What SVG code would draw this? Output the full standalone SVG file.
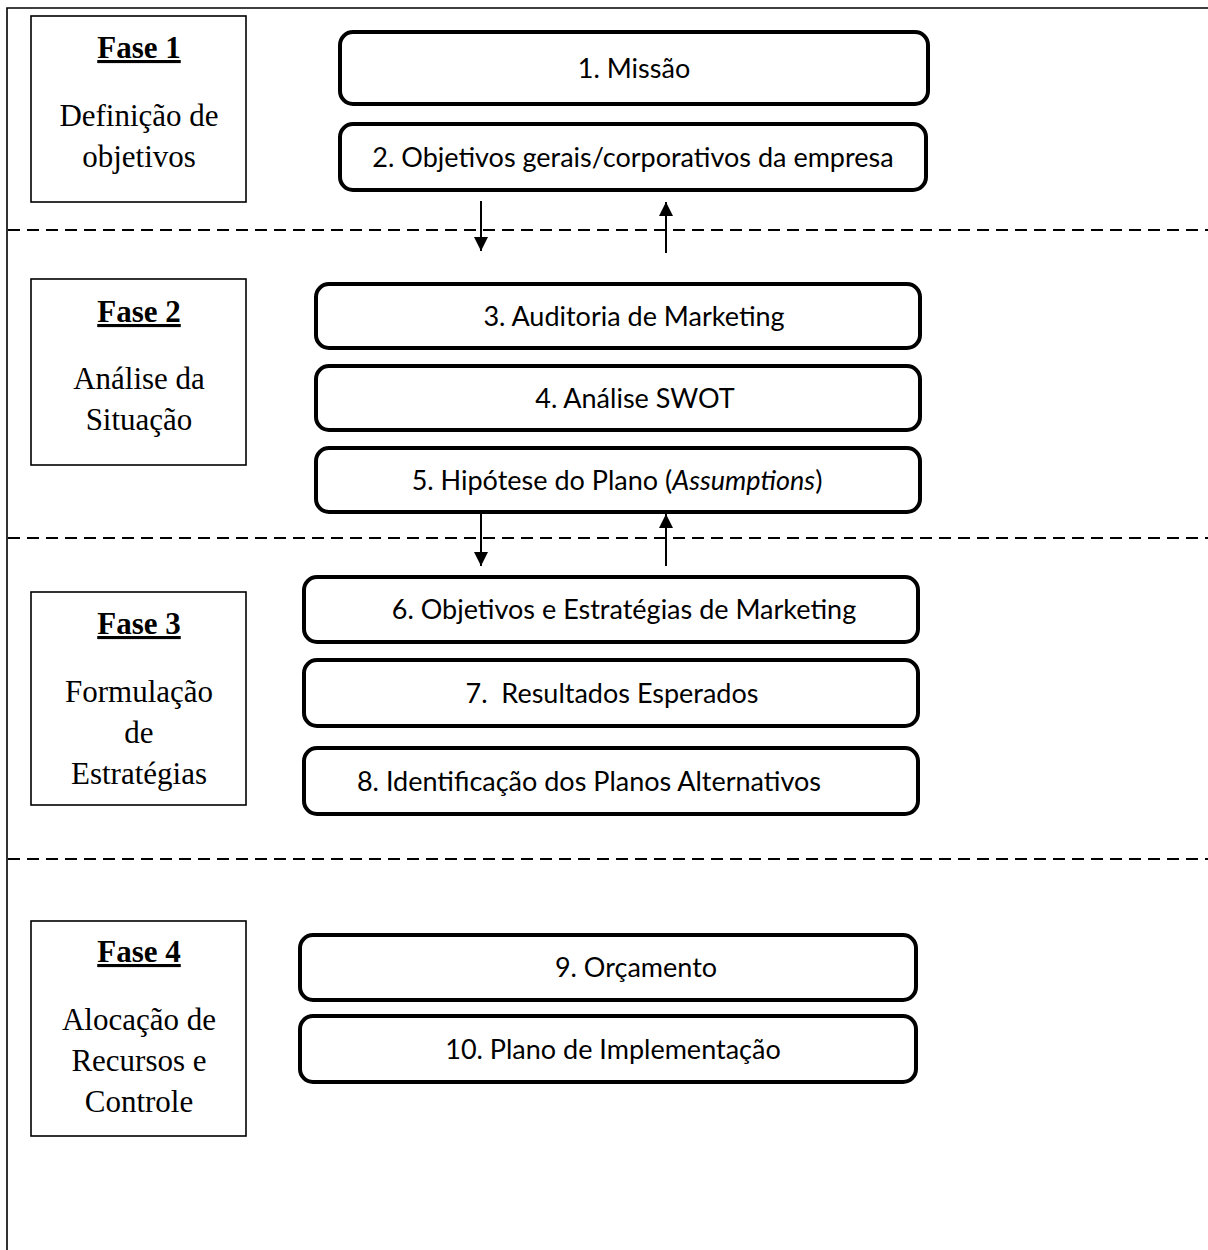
<svg xmlns="http://www.w3.org/2000/svg" width="1208" height="1250" viewBox="0 0 1208 1250">
<style>
.frame{fill:none;stroke:#000;stroke-width:1.6}
.dash{fill:none;stroke:#000;stroke-width:2;stroke-dasharray:12 7}
.phase{fill:#fff;stroke:#000;stroke-width:1.6}
.step{fill:#fff;stroke:#000;stroke-width:4}
.pt{font-family:"Liberation Serif",serif;font-size:31px;fill:#000;text-anchor:middle}
.ph{font-weight:bold;text-decoration:underline}
.st{font-family:Lato,"Open Sans",sans-serif;font-size:27px;fill:#000;text-anchor:middle}
.arr{stroke:#000;stroke-width:2;fill:none}
</style>
<defs>
<marker id="ah" markerUnits="userSpaceOnUse" markerWidth="14" markerHeight="16" refX="14" refY="7" orient="auto">
<path d="M0,0 L14,7 L0,14 Z" fill="#000"/>
</marker>
</defs>
<rect width="1208" height="1250" fill="#fff"/>
<g id="frame">
<path class="frame" d="M7,1250 L7,8 L1208,8"/>
<line class="dash" x1="8" y1="230" x2="1208" y2="230"/>
<line class="dash" x1="8" y1="538" x2="1208" y2="538"/>
<line class="dash" x1="8" y1="859" x2="1208" y2="859"/>
</g>
<g id="fase1">
<rect class="phase" x="31" y="16" width="215" height="186"/>
<text class="pt ph" x="139" y="58">Fase 1</text>
<text class="pt" x="139" y="126">Definição de</text>
<text class="pt" x="139" y="167">objetivos</text>
</g>
<g id="fase2">
<rect class="phase" x="31" y="279" width="215" height="186"/>
<text class="pt ph" x="139" y="322">Fase 2</text>
<text class="pt" x="139" y="389">Análise da</text>
<text class="pt" x="139" y="430">Situação</text>
</g>
<g id="fase3">
<rect class="phase" x="31" y="592" width="215" height="213"/>
<text class="pt ph" x="139" y="634">Fase 3</text>
<text class="pt" x="139" y="702">Formulação</text>
<text class="pt" x="139" y="743">de</text>
<text class="pt" x="139" y="784">Estratégias</text>
</g>
<g id="fase4">
<rect class="phase" x="31" y="921" width="215" height="215"/>
<text class="pt ph" x="139" y="962">Fase 4</text>
<text class="pt" x="139" y="1030">Alocação de</text>
<text class="pt" x="139" y="1071">Recursos e</text>
<text class="pt" x="139" y="1112">Controle</text>
</g>
<g id="s1"><rect class="step" x="340" y="32" width="588" height="72" rx="13"/><text class="st" x="634" y="78">1. Missão</text></g>
<g id="s2"><rect class="step" x="340" y="124" width="586" height="66" rx="13"/><text class="st" x="633" y="167">2. Objetivos gerais/corporativos da empresa</text></g>
<g id="s3"><rect class="step" x="316" y="284" width="604" height="64" rx="13"/><text class="st" x="634" y="326">3. Auditoria de Marketing</text></g>
<g id="s4"><rect class="step" x="316" y="366" width="604" height="64" rx="13"/><text class="st" x="635" y="408">4. Análise SWOT</text></g>
<g id="s5"><rect class="step" x="316" y="448" width="604" height="64" rx="13"/><text class="st" x="617" y="490">5. Hipótese do Plano (<tspan font-style="italic">Assumptions</tspan>)</text></g>
<g id="s6"><rect class="step" x="304" y="577" width="614" height="65" rx="13"/><text class="st" x="624" y="619">6. Objetivos e Estratégias de Marketing</text></g>
<g id="s7"><rect class="step" x="304" y="660" width="614" height="66" rx="13"/><text class="st" x="612" y="703" xml:space="preserve">7.  Resultados Esperados</text></g>
<g id="s8"><rect class="step" x="304" y="748" width="614" height="66" rx="13"/><text class="st" x="589" y="791">8. Identificação dos Planos Alternativos</text></g>
<g id="s9"><rect class="step" x="300" y="935" width="616" height="65" rx="13"/><text class="st" x="636" y="977">9. Orçamento</text></g>
<g id="s10"><rect class="step" x="300" y="1016" width="616" height="66" rx="13"/><text class="st" x="613" y="1059">10. Plano de Implementação</text></g>
<g id="connectors">
<line class="arr" x1="481" y1="201" x2="481" y2="251" marker-end="url(#ah)"/>
<line class="arr" x1="666" y1="253" x2="666" y2="202" marker-end="url(#ah)"/>
<line class="arr" x1="481" y1="514" x2="481" y2="566" marker-end="url(#ah)"/>
<line class="arr" x1="666" y1="566" x2="666" y2="514" marker-end="url(#ah)"/>
</g>
</svg>
